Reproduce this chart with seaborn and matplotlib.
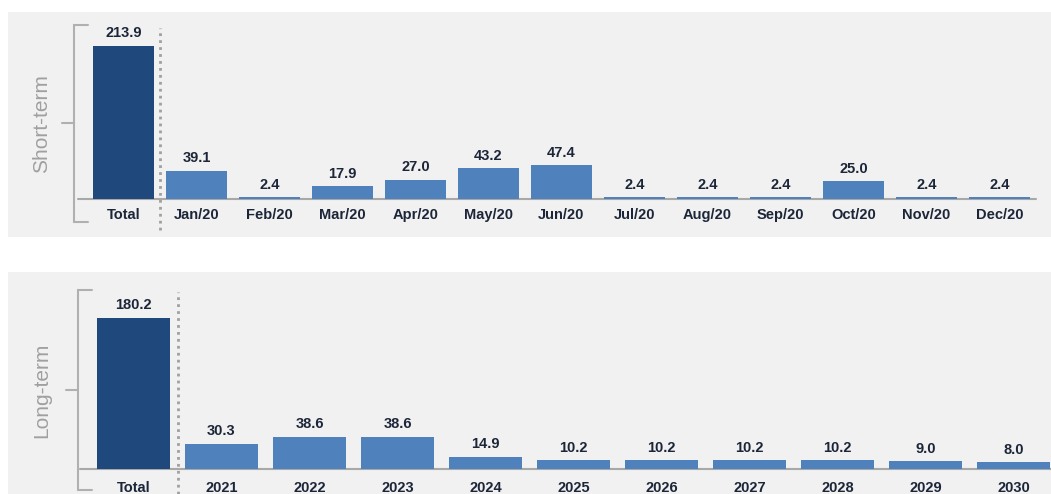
import matplotlib
matplotlib.use("Agg")
import matplotlib.pyplot as plt
import seaborn as sns
import pandas as pd
from matplotlib.patches import Rectangle
from matplotlib.lines import Line2D

short_cats = ["Total", "Jan/20", "Feb/20", "Mar/20", "Apr/20", "May/20", "Jun/20",
              "Jul/20", "Aug/20", "Sep/20", "Oct/20", "Nov/20", "Dec/20"]
short_vals = [213.9, 39.1, 2.4, 17.9, 27.0, 43.2, 47.4, 2.4, 2.4, 2.4, 25.0, 2.4, 2.4]
long_cats = ["Total", "2021", "2022", "2023", "2024", "2025", "2026", "2027", "2028", "2029", "2030"]
long_vals = [180.2, 30.3, 38.6, 38.6, 14.9, 10.2, 10.2, 10.2, 10.2, 9.0, 8.0]
panel_titles = ["Short-term", "Long-term"]

DARK = "#1f497d"
BLUE = "#4f81bd"
TXT = "#1c2638"
BG = "#f1f1f1"

sns.set_theme(style="white")
plt.rcParams["font.family"] = ["Liberation Sans", "DejaVu Sans"]

W, H = 1051, 494
fig = plt.figure(figsize=(W / 100, H / 100), dpi=100)
fig.patch.set_facecolor("white")

def fx(px):
    return px / W

def fy(py):
    return 1 - py / H

# panel backgrounds
for (y0, y1) in [(12, 237), (272, 494)]:
    fig.add_artist(Rectangle((fx(8), fy(y1)), fx(1051) - fx(8), fy(y0) - fy(y1),
                             transform=fig.transFigure, facecolor=BG, edgecolor="none", zorder=-10))

def bracket(x, ytop, ybot, label, lx):
    ymid = (ytop + ybot) / 2
    col = "#b0b0b0"
    pts = [((x + 14, ytop), (x, ytop)), ((x, ytop), (x, ybot)), ((x, ybot), (x + 14, ybot)),
           ((x, ymid), (x - 12, ymid))]
    for (a, b) in pts:
        fig.add_artist(Line2D([fx(a[0]), fx(b[0])], [fy(a[1]), fy(b[1])],
                              transform=fig.transFigure, color=col, lw=1.5,
                              solid_capstyle="round"))
    fig.text(fx(lx), fy(ymid), label, rotation=90, ha="center", va="center",
             color="#a0a0a0", fontsize=15)

def panel(cats, vals, left, right, base, top_px, scale, div_top, div_bot, pad):
    ax = fig.add_axes([fx(left), fy(base), fx(right) - fx(left), fy(top_px) - fy(base)])
    ax.set_facecolor("none")
    df = pd.DataFrame({"cat": cats, "val": vals})
    pal = {c: (DARK if i == 0 else BLUE) for i, c in enumerate(cats)}
    sns.barplot(data=df, x="cat", y="val", hue="cat", palette=pal, legend=False,
                width=0.83, ax=ax, saturation=1, linewidth=0, edgecolor="none")
    ymax = (base - top_px) / scale
    ax.set_xlim(-0.5, len(cats) - 0.5)
    ax.set_ylim(0, ymax)
    for s in ax.spines.values():
        s.set_visible(False)
    ax.set_yticks([])
    ax.set_xlabel("")
    ax.set_ylabel("")
    ax.tick_params(axis="x", length=0, pad=pad)
    for lab in ax.get_xticklabels():
        lab.set_fontweight("bold")
        lab.set_color(TXT)
        lab.set_fontsize(10.5)
    for i, v in enumerate(vals):
        ax.annotate(f"{v:.1f}", (i, v), xytext=(0, 4), textcoords="offset points",
                    ha="center", va="bottom", fontsize=10.5, fontweight="bold", color=TXT)
    ax.axhline(0, color="#a8a8a8", lw=1.5, xmin=-0.01, xmax=1.0, clip_on=False, zorder=0)
    # dotted divider
    ax.plot([0.5, 0.5], [-(div_bot - base) / scale, (base - div_top) / scale],
            color="#a0a0a0", lw=2, ls=(0, (1, 1.5)), clip_on=False)
    return ax

panel(short_cats, short_vals, 87, 1036, 199, 28, 153 / 213.9, 28, 230, 6.5)
panel(long_cats, long_vals, 89.5, 1057.5, 469, 290, 151 / 180.2, 292, 494, 8.5)

bracket(74, 25, 222, panel_titles[0], 42)
bracket(78, 290, 490, panel_titles[1], 42)

fig.savefig("out.png", dpi=100)
